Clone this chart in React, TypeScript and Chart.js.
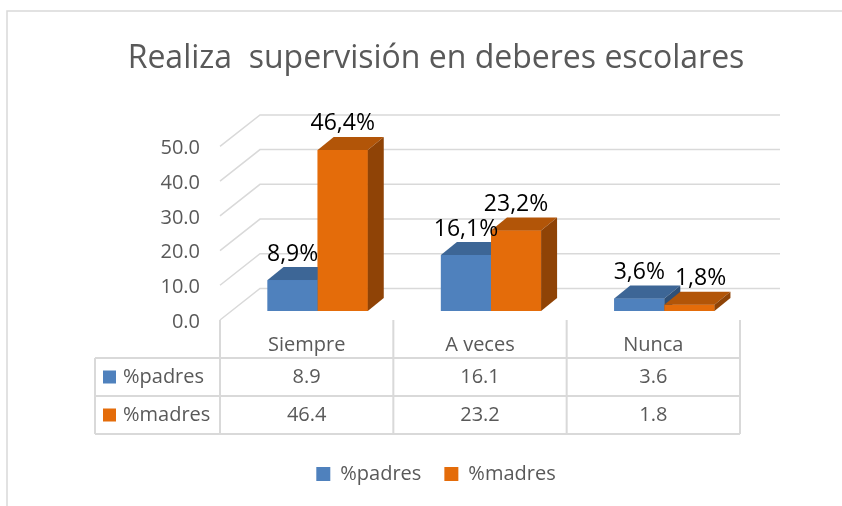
import React, { useEffect, useRef } from "react";
import { Chart, registerables } from "chart.js";

Chart.register(...registerables);

// ---- data ----
const chartTitle = "Realiza  supervisión en deberes escolares";
const categories = ["Siempre", "A veces", "Nunca"];
const seriesNames = ["%padres", "%madres"];
const padres = [8.9, 16.1, 3.6];
const madres = [46.4, 23.2, 1.8];
const yTicks = [0, 10, 20, 30, 40, 50];

// ---- style ----
const FONT = "'Open Sans', 'Liberation Sans', sans-serif";
const TEXT = "#595959";
const GRID = "#d9d9d9";
const frontColors = ["#4F81BD", "#E46C0A"];
const topColors = ["#3D6696", "#B25508"];
const sideColors = ["#2F5077", "#8F4306"];

const FRONT = { dx: -11, dy: 9 };
const BACK = { dx: 29, dy: -22.5 };
const DEPTH = { dx: 16, dy: -13 };

const fmtPct = (v: number) => v.toFixed(1).replace(".", ",") + "%";

const threeD = {
  id: "threeD",
  beforeDraw(chart: any) {
    const ctx = chart.ctx;
    ctx.save();
    ctx.strokeStyle = GRID;
    ctx.lineWidth = 1.5;
    ctx.strokeRect(7, 11, 900, 600);
    ctx.restore();
  },
  beforeDatasetsDraw(chart: any) {
    const ctx = chart.ctx;
    const { left, right } = chart.chartArea;
    const ys = chart.scales.y;
    ctx.save();
    ctx.strokeStyle = GRID;
    ctx.lineWidth = 1.5;
    yTicks.forEach((v) => {
      const y = ys.getPixelForValue(v);
      ctx.beginPath();
      ctx.moveTo(left + FRONT.dx, y + FRONT.dy);
      ctx.lineTo(left + BACK.dx, y + BACK.dy);
      ctx.lineTo(right + BACK.dx, y + BACK.dy);
      ctx.stroke();
    });
    ctx.restore();
  },
  afterDatasetsDraw(chart: any) {
    const ctx = chart.ctx;
    const metas = chart.data.datasets.map((_: any, d: number) => chart.getDatasetMeta(d));
    ctx.save();
    for (let i = 0; i < categories.length; i++) {
      metas.forEach((meta: any, d: number) => {
        const el = meta.data[i];
        const { x, y, base, width } = el.getProps(["x", "y", "base", "width"], true);
        const x0 = x - width / 2;
        const x1 = x + width / 2;
        ctx.fillStyle = frontColors[d];
        ctx.fillRect(x0, y, width, base - y);
        ctx.fillStyle = topColors[d];
        ctx.beginPath();
        ctx.moveTo(x0, y);
        ctx.lineTo(x1, y);
        ctx.lineTo(x1 + DEPTH.dx, y + DEPTH.dy);
        ctx.lineTo(x0 + DEPTH.dx, y + DEPTH.dy);
        ctx.closePath();
        ctx.fill();
        ctx.fillStyle = sideColors[d];
        ctx.beginPath();
        ctx.moveTo(x1, y);
        ctx.lineTo(x1, base);
        ctx.lineTo(x1 + DEPTH.dx, base + DEPTH.dy);
        ctx.lineTo(x1 + DEPTH.dx, y + DEPTH.dy);
        ctx.closePath();
        ctx.fill();
      });
    }
    // data labels
    ctx.font = `23px ${FONT}`;
    ctx.fillStyle = "#000";
    ctx.textAlign = "center";
    ctx.textBaseline = "middle";
    const placed: { l: number; r: number; t: number; b: number }[] = [];
    for (let i = 0; i < categories.length; i++) {
      metas.forEach((meta: any, d: number) => {
        const el = meta.data[i];
        const { x, y } = el.getProps(["x", "y"], true);
        const v = chart.data.datasets[d].data[i] as number;
        const txt = fmtPct(v);
        const w = ctx.measureText(txt).width;
        const h = 22;
        let cx = x;
        const cy = y - 26;
        let box = { l: cx - w / 2, r: cx + w / 2, t: cy - h / 2, b: cy + h / 2 };
        for (const p of placed) {
          if (box.l < p.r + 4 && box.r > p.l - 4 && box.t < p.b && box.b > p.t) {
            const shift = p.r + 10 - box.l;
            cx += shift;
            box = { l: box.l + shift, r: box.r + shift, t: box.t, b: box.b };
          }
        }
        placed.push(box);
        ctx.fillText(txt, cx, cy);
      });
    }
    ctx.restore();
  },
  afterDraw(chart: any) {
    const ctx = chart.ctx;
    const { left, right } = chart.chartArea;
    const ys = chart.scales.y;
    const y0 = ys.getPixelForValue(0) + FRONT.dy;
    const fl = left + FRONT.dx;
    const fr = right + FRONT.dx;
    const catW = (right - left) / categories.length;
    const rowH = 38;
    const labelColLeft = 95;
    const r1 = y0 + rowH;
    const rows = [r1, r1 + rowH, r1 + 2 * rowH];
    ctx.save();
    ctx.strokeStyle = GRID;
    ctx.lineWidth = 2;
    ctx.beginPath();
    for (let i = 0; i <= categories.length; i++) {
      const x = fl + i * catW;
      ctx.moveTo(x, y0);
      ctx.lineTo(x, rows[2]);
    }
    ctx.moveTo(labelColLeft, rows[0]);
    ctx.lineTo(labelColLeft, rows[2]);
    rows.forEach((ry) => {
      ctx.moveTo(labelColLeft, ry);
      ctx.lineTo(fr, ry);
    });
    ctx.stroke();

    ctx.font = `20px ${FONT}`;
    ctx.textBaseline = "middle";
    const series = [padres, madres];
    series.forEach((vals, d) => {
      const cy = rows[d] + rowH / 2;
      ctx.fillStyle = frontColors[d];
      ctx.fillRect(labelColLeft + 8, cy - 6.5, 13, 13);
      ctx.fillStyle = TEXT;
      ctx.textAlign = "left";
      ctx.fillText(seriesNames[d], labelColLeft + 28, cy);
      ctx.textAlign = "center";
      vals.forEach((v, i) => {
        ctx.fillText(String(v), fl + (i + 0.5) * catW, cy);
      });
    });
    ctx.restore();
  },
};

export default function App() {
  const ref = useRef<HTMLCanvasElement | null>(null);
  useEffect(() => {
    document.body.style.margin = "0";
    Chart.defaults.font.family = FONT;
    const chart = new Chart(ref.current as HTMLCanvasElement, {
      type: "bar",
      data: {
        labels: categories,
        datasets: [
          { label: seriesNames[0], data: padres, backgroundColor: frontColors[0], borderWidth: 0 },
          { label: seriesNames[1], data: madres, backgroundColor: frontColors[1], borderWidth: 0 },
        ],
      },
      options: {
        responsive: false,
        animation: false,
        events: [],
        layout: { padding: { left: 121, right: 91, top: 0, bottom: 12 } },
        datasets: { bar: { barPercentage: 1, categoryPercentage: 0.578 } },
        scales: {
          x: {
            grid: { display: false, drawTicks: false },
            border: { display: false },
            ticks: { color: TEXT, font: { size: 20 }, padding: 22, labelOffset: FRONT.dx },
            afterFit: (s: any) => {
              s.height = 130;
            },
          },
          y: {
            min: 0,
            max: 50,
            grid: { display: false, drawTicks: false },
            border: { display: false },
            ticks: {
              stepSize: 10,
              color: TEXT,
              font: { size: 20 },
              padding: 31,
              labelOffset: FRONT.dy + 2,
              callback: (v: any) => Number(v).toFixed(1),
            },
            afterFit: (s: any) => {
              s.width = 110;
            },
          },
        },
        plugins: {
          title: {
            display: true,
            text: chartTitle,
            color: TEXT,
            font: { size: 32, weight: "normal" },
            padding: { top: 40, bottom: 59 },
          },
          legend: {
            position: "bottom",
            labels: { color: TEXT, font: { size: 20 }, boxWidth: 14, boxHeight: 14, padding: 23 },
          },
          tooltip: { enabled: false },
        },
      },
      plugins: [threeD],
    } as any);
    return () => chart.destroy();
  }, []);
  return (
    <div style={{ width: 842, height: 506 }}>
      <canvas ref={ref} width={842} height={506} style={{ display: "block" }} />
    </div>
  );
}
